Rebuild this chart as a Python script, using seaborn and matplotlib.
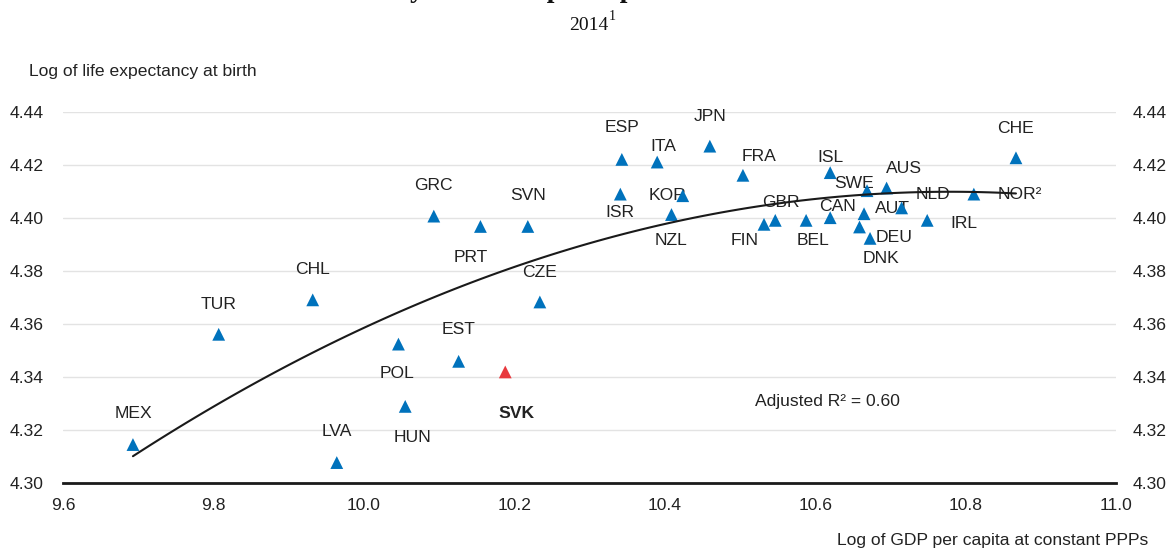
import matplotlib
matplotlib.use('Agg')
import matplotlib.pyplot as plt
from matplotlib import font_manager
import seaborn as sns
import pandas as pd

# Data (log GDP per capita, log life expectancy), 2014
countries = ['MEX', 'TUR', 'CHL', 'LVA', 'POL', 'HUN', 'EST', 'SVK', 'GRC', 'PRT', 'SVN',
             'CZE', 'ESP', 'ISR', 'ITA', 'KOR', 'NZL', 'JPN', 'FRA', 'FIN', 'GBR', 'BEL',
             'ISL', 'CAN', 'SWE', 'AUS', 'AUT', 'DEU', 'DNK', 'NLD', 'IRL', 'NOR', 'CHE']
gdp = [9.693, 9.807, 9.932, 9.964, 10.046, 10.055, 10.126, 10.188, 10.093, 10.155, 10.218,
       10.234, 10.343, 10.341, 10.390, 10.424, 10.409, 10.460, 10.504, 10.532, 10.547, 10.588,
       10.620, 10.620, 10.669, 10.695, 10.665, 10.659, 10.673, 10.715, 10.749, 10.811, 10.867]
life = [4.3144, 4.3560, 4.3690, 4.3076, 4.3523, 4.3288, 4.3458, 4.3418, 4.4006, 4.3967, 4.3967,
        4.3682, 4.4220, 4.4089, 4.4210, 4.4083, 4.4012, 4.4270, 4.4160, 4.3975, 4.3990, 4.3990,
        4.4170, 4.4000, 4.4102, 4.4112, 4.4015, 4.3965, 4.3922, 4.4037, 4.3990, 4.4089, 4.4226]
highlight = 'SVK'
x_ticks = [9.6, 9.8, 10.0, 10.2, 10.4, 10.6, 10.8, 11.0]
y_ticks = [4.30, 4.32, 4.34, 4.36, 4.38, 4.40, 4.42, 4.44]

df = pd.DataFrame({'country': countries, 'gdp': gdp, 'life': life})
df['grp'] = ['hl' if c == highlight else 'oecd' for c in df['country']]

# label offsets from the marker, in pixels (x right, y up)
offsets = {'MEX': (0, 31), 'TUR': (0, 30), 'CHL': (0, 30), 'LVA': (0, 31), 'POL': (-1, -29),
           'HUN': (7, -31), 'EST': (0, 32), 'SVK': (11, -42), 'GRC': (0, 31), 'PRT': (-10, -31),
           'SVN': (0, 31), 'CZE': (0, 29), 'ESP': (0, 32), 'ISR': (0, -18), 'ITA': (6, 16),
           'KOR': (-15, 0), 'NZL': (0, -26), 'JPN': (0, 30), 'FRA': (16, 19), 'FIN': (-19, -16),
           'GBR': (6, 18), 'BEL': (7, -20), 'ISL': (0, 15), 'CAN': (7, 11), 'SWE': (-13, 7),
           'AUS': (17, 20), 'AUT': (28, 5), 'DEU': (35, -11), 'DNK': (11, -20), 'NLD': (31, 13),
           'IRL': (37, -3), 'NOR': (46, 0), 'CHE': (0, 29)}
label_text = {'NOR': 'NOR²'}

sns.set_style('white')
names = {f.name for f in font_manager.fontManager.ttflist}
if 'Liberation Sans Narrow' in names:
    plt.rcParams['font.family'] = ['Liberation Sans Narrow', 'DejaVu Sans']
    fs = 15.5
else:
    plt.rcParams['font.family'] = ['Liberation Sans', 'DejaVu Sans']
    fs = 12.6
txt_col = '#222222'
serif = ['Liberation Serif', 'DejaVu Serif']

fig = plt.figure(figsize=(11.71, 5.5), dpi=100)
W, H = 1171, 550
ax = fig.add_axes([63 / W, 1 - 482.7 / H, (1116 - 63) / W, (482.7 - 111.7) / H])

# quadratic fit, as in the original chart
sns.regplot(data=df, x='gdp', y='life', order=2, ci=None, scatter=False, truncate=True,
            line_kws={'color': '#1a1a1a', 'lw': 1.5, 'zorder': 4}, ax=ax)
sns.scatterplot(data=df, x='gdp', y='life', hue='grp', palette={'oecd': '#0072bc', 'hl': '#e8383d'},
                marker='^', s=85, linewidth=0, legend=False, zorder=3, ax=ax)

for c, x, y in zip(countries, gdp, life):
    dx, dy = offsets[c]
    ax.annotate(label_text.get(c, c), (x, y), xytext=(dx, dy), textcoords='offset pixels',
                ha='center', va='center', fontsize=fs, color=txt_col,
                fontweight='bold' if c == highlight else 'normal', zorder=2)

ax.text(10.616, 4.3306, 'Adjusted R² = 0.60', ha='center', va='center', fontsize=fs, color=txt_col)

ax.set_xlim(9.6, 11.0)
ax.set_ylim(4.30, 4.44)
ax.set_xticks(x_ticks)
ax.set_xticklabels([f'{v:.1f}' for v in x_ticks])
ax.set_yticks(y_ticks)
ax.set_yticklabels([f'{v:.2f}' for v in y_ticks])
ax.grid(axis='y', color='#e3e3e3', lw=1)
ax.grid(axis='x', visible=False)
for s in ['left', 'right', 'top']:
    ax.spines[s].set_visible(False)
ax.spines['bottom'].set_linewidth(2)
ax.spines['bottom'].set_color('#1a1a1a')
ax.tick_params(axis='x', direction='in', length=4, width=1.2, color='#1a1a1a', pad=11,
               labelsize=fs, labelcolor=txt_col)
ax.tick_params(axis='y', length=0, pad=14, labelsize=fs, labelcolor=txt_col)
ax.set_xlabel('')
ax.set_ylabel('')

# same scale repeated on the right
ax2 = ax.twinx()
ax2.set_ylim(4.30, 4.44)
ax2.set_yticks(y_ticks)
ax2.set_yticklabels([f'{v:.2f}' for v in y_ticks])
ax2.tick_params(axis='y', length=0, pad=12, labelsize=fs, labelcolor=txt_col)
for s in ax2.spines.values():
    s.set_visible(False)
ax2.grid(False)

fig.text(29 / W, 1 - 71 / H, 'Log of life expectancy at birth', ha='left', va='center',
         fontsize=fs, color=txt_col)
fig.text(1148 / W, 1 - 540 / H, 'Log of GDP per capita at constant PPPs', ha='right', va='center',
         fontsize=fs, color=txt_col)

# subtitle, and the title which is cropped off at the top edge in the source image
fig.text(608 / W, 1 - 30 / H, '2014', ha='right', va='baseline', fontsize=14,
         family=serif, color='#111111')
fig.text(609 / W, 1 - 20 / H, '1', ha='left', va='baseline', fontsize=10,
         family=serif, color='#111111')
fig.text(310 / W, 1 + 3 / H, 'Mortality and GDP per capita', ha='left', va='baseline',
         fontsize=20, fontweight='bold', family=serif, color='#111111')

fig.savefig('out.png', dpi=100)
